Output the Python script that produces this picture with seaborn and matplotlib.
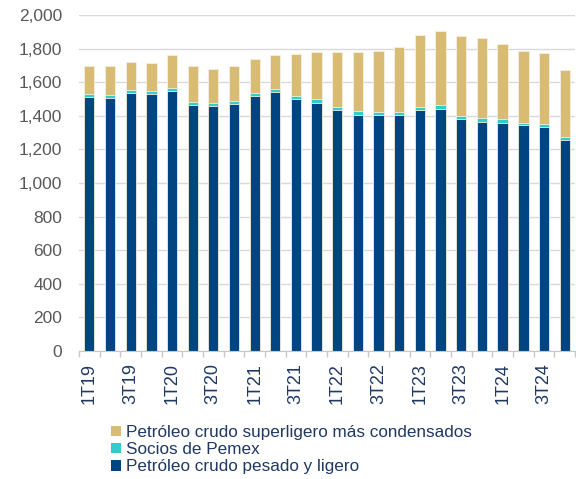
import pandas as pd
import matplotlib
matplotlib.use("Agg")
import matplotlib.pyplot as plt
import seaborn as sns
from matplotlib.patches import Patch
from matplotlib.ticker import FuncFormatter, FixedLocator

# Quarterly oil production (thousand barrels per day)
QUARTERS = [f"{q}T{y}" for y in range(19, 25) for q in range(1, 5)]
PESADO_LIGERO = [1514, 1508, 1538, 1532, 1546, 1463, 1457, 1472, 1518, 1542, 1498, 1478,
                 1433, 1407, 1403, 1403, 1437, 1443, 1381, 1365, 1359, 1344, 1334, 1258]
SOCIOS = [14, 16, 18, 16, 18, 19, 17, 18, 16, 16, 20, 20,
          20, 22, 20, 20, 18, 20, 20, 22, 20, 13, 17, 18]
SUPERLIGERO = [169, 171, 162, 168, 200, 215, 207, 209, 204, 206, 248, 280,
               327, 353, 365, 385, 424, 444, 476, 474, 448, 431, 421, 399]

LABELS = ["Petróleo crudo superligero más condensados",
          "Socios de Pemex",
          "Petróleo crudo pesado y ligero"]
COLORS = ["#D8BC74", "#33CCCC", "#004481"]

sns.set_style("white")
plt.rcParams['font.family'] = ['Liberation Sans', 'DejaVu Sans']

df = pd.DataFrame({"Trimestre": QUARTERS,
                   "pesado": PESADO_LIGERO,
                   "socios": SOCIOS,
                   "super": SUPERLIGERO})
df["lvl_pesado"] = df["pesado"]
df["lvl_socios"] = df["pesado"] + df["socios"]
df["lvl_total"] = df["lvl_socios"] + df["super"]

fig = plt.figure(figsize=(5.76, 4.79), dpi=100)
ax = fig.add_axes([79 / 576, 1 - 351 / 479, 496 / 576, 336 / 479])

# stacked bars drawn as cumulative layers, tallest first
for col, color in zip(["lvl_total", "lvl_socios", "lvl_pesado"], COLORS):
    sns.barplot(data=df, x="Trimestre", y=col, color=color, saturation=1, width=0.5,
                edgecolor="#f3efe2", linewidth=0.6, ax=ax, zorder=2)

ax.set_ylim(0, 2000)
ax.set_xlim(-0.5, len(QUARTERS) - 0.5)
ax.set_yticks(range(0, 2001, 200))
ax.yaxis.set_major_formatter(FuncFormatter(lambda v, p: f"{int(v):,}"))
ax.yaxis.grid(True, color="#d9d9d9", linewidth=1, zorder=0)
ax.set_axisbelow(True)
ax.set_xlabel("")
ax.set_ylabel("")

ax.set_xticks(range(0, len(QUARTERS), 2))
ax.set_xticklabels(QUARTERS[::2], rotation=90)
ax.xaxis.set_minor_locator(FixedLocator([i - 0.5 for i in range(len(QUARTERS) + 1)]))
ax.tick_params(axis="x", which="major", length=0, pad=9, labelsize=13, labelcolor="#1F3864")
ax.tick_params(axis="x", which="minor", length=4, color="#c8c8c8", width=1, bottom=True)
ax.tick_params(axis="y", length=0, pad=12, labelsize=12.5, labelcolor="#595959")

for side in ["left", "right", "top"]:
    ax.spines[side].set_visible(False)
ax.spines["bottom"].set_color("#c8c8c8")
ax.spines["bottom"].set_zorder(3)

handles = [Patch(facecolor=c, edgecolor="none") for c in COLORS]
fig.legend(handles, LABELS, loc="upper left", bbox_to_anchor=(111 / 576, 1 - 425 / 479),
           frameon=False, fontsize=12.3, labelcolor="#1F3864", handlelength=0.6,
           handleheight=0.6, handletextpad=0.25, labelspacing=0.12,
           borderpad=0, borderaxespad=0)

fig.savefig("out.png", dpi=100)
